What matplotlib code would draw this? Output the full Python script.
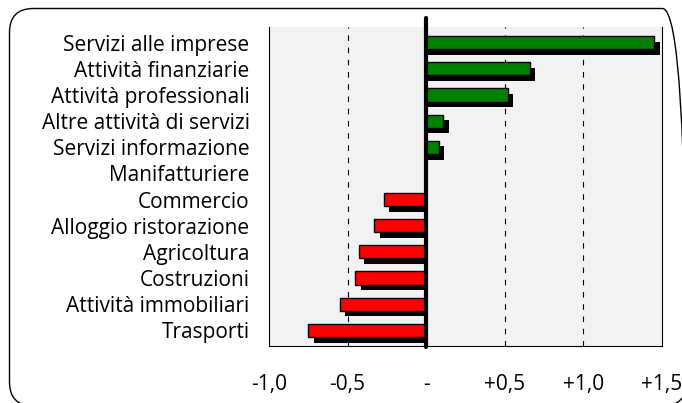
import matplotlib.pyplot as plt
import numpy as np
from matplotlib.patches import FancyBboxPatch
from matplotlib.transforms import IdentityTransform

# settori e variazioni (punti percentuali)
settori = ['Servizi alle imprese', 'Attività finanziarie', 'Attività professionali',
           'Altre attività di servizi', 'Servizi informazione', 'Manifatturiere',
           'Commercio', 'Alloggio ristorazione', 'Agricoltura', 'Costruzioni',
           'Attività immobiliari', 'Trasporti']
valori = [1.45, 0.66, 0.52, 0.11, 0.08, 0.0,
          -0.27, -0.33, -0.43, -0.45, -0.55, -0.75]
ticks = [-1.0, -0.5, 0.0, 0.5, 1.0, 1.5]
tick_labels = ['-1,0', '-0,5', '-', '+0,5', '+1,0', '+1,5']

plt.rcParams['font.family'] = ['Open Sans', 'DejaVu Sans']

W, H = 682, 403
fig = plt.figure(figsize=(W/100, H/100), dpi=100)
ax = fig.add_axes([269/W, 1-346/H, (662-269)/W, (346-27)/H])

y = np.arange(len(settori))[::-1]
colori = ['#008000' if v > 0 else '#FF0000' for v in valori]

# ombra nera spostata in basso a destra
dx = 0.035
dy = 0.22
for yi, v in zip(y, valori):
    if v == 0:
        continue
    if v > 0:
        ax.barh(yi - dy, v + dx, left=0.0, height=0.5, color='black', zorder=2)
    else:
        ax.barh(yi - dy, -v - dx, left=v + dx, height=0.5, color='black', zorder=2)
ax.barh(y, valori, height=0.5, color=colori, edgecolor='black', linewidth=1.0, zorder=3)

ax.set_xlim(-1.0, 1.5)
ax.set_ylim(-0.6, 11.6)
ax.set_facecolor('#F2F2F2')
for xv in [-0.5, 0.5, 1.0]:
    ax.axvline(xv, color='black', linestyle=(0, (5, 6)), linewidth=0.8, zorder=1)
ax.plot([0, 0], [-0.65, 11.95], color='black', linewidth=3, solid_capstyle='round',
        zorder=4, clip_on=False)

ax.set_xticks(ticks)
ax.set_xticklabels(tick_labels, fontsize=15)
ax.tick_params(axis='x', length=0, pad=20)
ax.set_yticks(y)
ax.set_yticklabels(settori, fontsize=15)
ax.tick_params(axis='y', length=0, pad=14)
ax.spines['top'].set_visible(False)
for s in ['left', 'right', 'bottom']:
    ax.spines[s].set_linewidth(0.8)

# cornice arrotondata (in pixel)
box = FancyBboxPatch((9.5, -3), 677, H - 8.5 + 3,
                     boxstyle='round,pad=0,rounding_size=24',
                     transform=IdentityTransform(), facecolor='none',
                     edgecolor='black', linewidth=1.0, clip_on=False)
fig.patches.append(box)

fig.savefig('out.png', dpi=100, facecolor='white')
